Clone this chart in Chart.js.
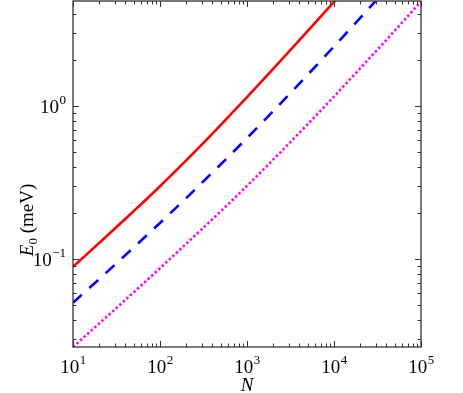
<!DOCTYPE html>
<html>
<head>
<meta charset="utf-8">
<script src="https://cdn.jsdelivr.net/npm/chart.js@4"></script>
<style>
  html, body { margin: 0; padding: 0; background: #fff; }
  #wrap { width: 463px; height: 393px; }
</style>
</head>
<body>
<div id="wrap"><canvas id="chart" width="463" height="393"></canvas></div>
<script>
// N values (x) and E0 values (meV)
var nGrid = [10, 20, 50, 100, 200, 500, 1000, 2000, 5000, 10000, 20000, 50000, 100000];
var redE = [0.089, 0.1272, 0.2058, 0.2992, 0.4411, 0.7538, 1.143, 1.751, 3.104, 4.80, 7.46, null, null];
var blueE = [0.0518, 0.0740, 0.1192, 0.1721, 0.2502, 0.4161, 0.6176, 0.9264, 1.606, 2.450, 3.766, 6.68, null];
var magentaE = [0.0266, 0.0379, 0.0607, 0.0871, 0.1258, 0.2054, 0.3007, 0.4462, 0.7626, 1.156, 1.764, 3.112, 4.83];

// tick labels are 10^exp
var xTickExps = [1, 2, 3, 4, 5];
var yTickExps = [-1, 0];

var FONT = "'Liberation Serif', 'Times New Roman', serif";

function toPoints(ys) {
    var pts = [];
    for (var i = 0; i < nGrid.length; i++) {
        if (ys[i] !== null) pts.push({ x: nGrid[i], y: ys[i] });
    }
    return pts;
}

// draws frame, inward ticks, power-of-ten labels and axis titles
var axesPlugin = {
    id: "axesPlugin",
    afterDraw: function (chart) {
        var ctx = chart.ctx;
        var a = chart.chartArea;
        var xs = chart.scales.x;
        var ys = chart.scales.y;
        ctx.save();
        ctx.strokeStyle = "#333";
        ctx.lineWidth = 1.3;
        ctx.strokeRect(a.left, a.top, a.right - a.left, a.bottom - a.top);

        ctx.lineWidth = 1;
        ctx.beginPath();
        // x ticks, bottom and top
        for (var e = xTickExps[0]; e <= xTickExps[xTickExps.length - 1]; e++) {
            for (var m = 1; m <= 9; m++) {
                var v = m * Math.pow(10, e);
                if (v > xs.max * 1.0001) break;
                var px = Math.round(xs.getPixelForValue(v)) + 0.5;
                var len = (m === 1) ? 6 : 3.5;
                ctx.moveTo(px, a.bottom); ctx.lineTo(px, a.bottom - len);
                ctx.moveTo(px, a.top); ctx.lineTo(px, a.top + len);
            }
        }
        // y ticks, left and right
        for (var e2 = -2; e2 <= 0; e2++) {
            for (var m2 = 1; m2 <= 9; m2++) {
                var v2 = m2 * Math.pow(10, e2);
                if (v2 < ys.min || v2 > ys.max) continue;
                var py = Math.round(ys.getPixelForValue(v2)) + 0.5;
                var len2 = (m2 === 1) ? 6 : 3.5;
                ctx.moveTo(a.left, py); ctx.lineTo(a.left + len2, py);
                ctx.moveTo(a.right, py); ctx.lineTo(a.right - len2, py);
            }
        }
        ctx.stroke();

        ctx.fillStyle = "#000";
        ctx.textBaseline = "alphabetic";
        // x tick labels
        xTickExps.forEach(function (ex) {
            var px = xs.getPixelForValue(Math.pow(10, ex));
            ctx.font = "19px " + FONT;
            var w1 = ctx.measureText("10").width;
            ctx.font = "13px " + FONT;
            var w2 = ctx.measureText(String(ex)).width;
            var x0 = px - (w1 + w2) / 2;
            ctx.font = "19px " + FONT;
            ctx.textAlign = "left";
            ctx.fillText("10", x0, a.bottom + 26);
            ctx.font = "13px " + FONT;
            ctx.fillText(String(ex), x0 + w1 + 0.5, a.bottom + 17);
        });
        // y tick labels
        yTickExps.forEach(function (ex) {
            var py = ys.getPixelForValue(Math.pow(10, ex));
            var s = String(ex).replace("-", "\u2212");
            ctx.font = "13px " + FONT;
            var w2 = ctx.measureText(s).width;
            ctx.font = "19px " + FONT;
            var w1 = ctx.measureText("10").width;
            var xr = a.left - 7;
            ctx.textAlign = "left";
            ctx.fillText("10", xr - w2 - w1 - 0.5, py + 7);
            ctx.font = "13px " + FONT;
            ctx.fillText(s, xr - w2, py - 2);
        });

        // x title
        ctx.font = "italic 19px " + FONT;
        ctx.textAlign = "center";
        ctx.fillText("N", (a.left + a.right) / 2, a.bottom + 44);

        // y title, rotated
        ctx.translate(27, 220);
        ctx.rotate(-Math.PI / 2);
        ctx.font = "italic 19px " + FONT;
        var wE = ctx.measureText("E").width;
        ctx.font = "13px " + FONT;
        var wS = ctx.measureText("0").width;
        ctx.font = "19px " + FONT;
        var wR = ctx.measureText(" (meV)").width;
        var sx = -(wE + wS + wR) / 2;
        ctx.textAlign = "left";
        ctx.font = "italic 19px " + FONT;
        ctx.fillText("E", sx, 6);
        ctx.font = "13px " + FONT;
        ctx.fillText("0", sx + wE, 10);
        ctx.font = "19px " + FONT;
        ctx.fillText(" (meV)", sx + wE + wS, 6);
        ctx.restore();
    }
};

var chart = new Chart(document.getElementById("chart").getContext("2d"), {
    type: "line",
    data: {
        datasets: [{
            label: "red",
            data: toPoints(redE),
            borderColor: "#ff0000",
            borderWidth: 2.6,
            pointRadius: 0,
            cubicInterpolationMode: "monotone"
        }, {
            label: "blue",
            data: toPoints(blueE),
            borderColor: "#0000ff",
            borderWidth: 2.6,
            borderDash: [12, 10],
            pointRadius: 0,
            cubicInterpolationMode: "monotone"
        }, {
            label: "magenta",
            data: toPoints(magentaE),
            borderColor: "#ff00ff",
            borderWidth: 2.6,
            borderDash: [2.4, 2.4],
            pointRadius: 0,
            cubicInterpolationMode: "monotone"
        }]
    },
    options: {
        responsive: false,
        animation: false,
        layout: { padding: { left: 73, right: 42, top: 1, bottom: 46 } },
        plugins: { legend: { display: false }, tooltip: { enabled: false } },
        scales: {
            x: {
                type: "logarithmic",
                display: false,
                min: 10,
                max: 100000
            },
            y: {
                type: "logarithmic",
                display: false,
                min: 0.0266,
                max: 4.86
            }
        }
    },
    plugins: [axesPlugin]
});
</script>
</body>
</html>
